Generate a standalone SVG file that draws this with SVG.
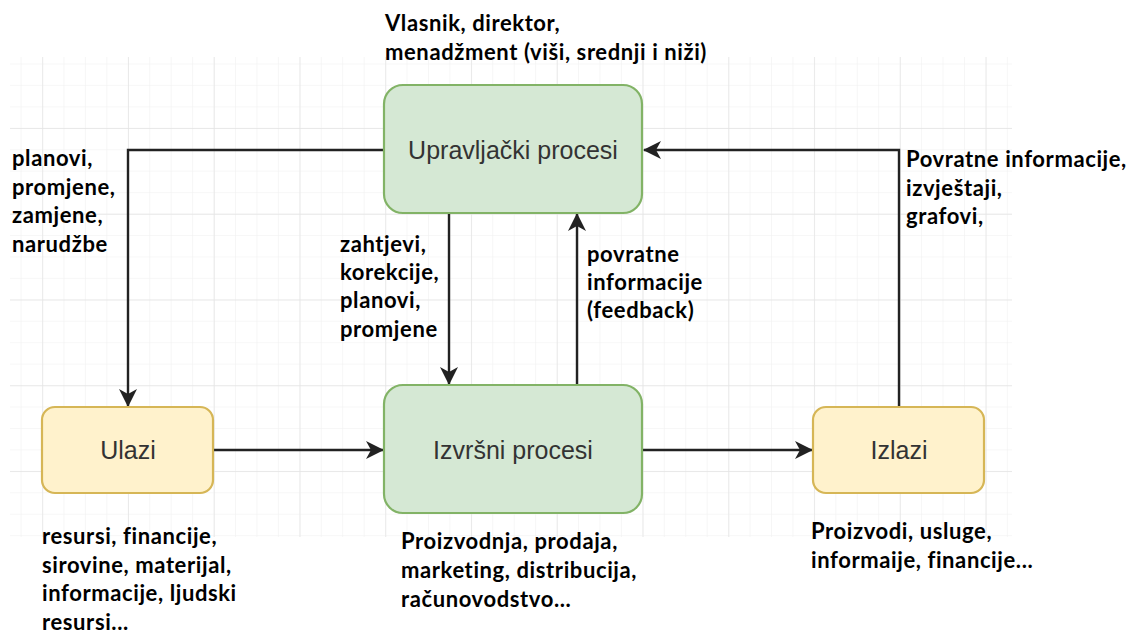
<svg xmlns="http://www.w3.org/2000/svg" width="1128" height="635" viewBox="0 0 1128 635">
<style>
.node-text{font-family:"Liberation Sans",Arial,sans-serif;font-size:25px;fill:#333333;text-anchor:middle;}
.label{font-family:Lato,"Liberation Sans",sans-serif;font-weight:bold;font-size:22px;letter-spacing:0.6px;fill:#000000;}
.green{fill:#d5e8d4;stroke:#82b366;stroke-width:2.2;}
.yellow{fill:#fff2cc;stroke:#d6b656;stroke-width:2.2;}
.conn{fill:none;stroke:#222222;stroke-width:2.4;}
</style>
<defs>
<pattern id="minor" patternUnits="userSpaceOnUse" x="20.6" y="20.6" width="21.44" height="21.44">
<path d="M0,0 V21.44 M0,0 H21.44" fill="none" stroke="#f0f0f0" stroke-width="1.2"/>
</pattern>
<pattern id="major" patternUnits="userSpaceOnUse" x="128" y="128" width="85.76" height="85.76">
<path d="M0,0 V85.76 M0,0 H85.76" fill="none" stroke="#e4e4e4" stroke-width="1.4"/>
</pattern>
<marker id="arrow" markerUnits="userSpaceOnUse" viewBox="0 0 18 18" refX="17" refY="9" markerWidth="18" markerHeight="18" orient="auto">
<path d="M0,0 L18,9 L0,18 L5,9 Z" fill="#222222"/>
</marker>
</defs>
<rect x="0" y="0" width="1128" height="635" fill="#ffffff"/>
<g id="grid">
<rect x="10" y="57" width="1002" height="480" fill="url(#minor)"/>
<rect x="10" y="57" width="1002" height="480" fill="url(#major)"/>
</g>
<g id="connectors">
<path class="conn" d="M384,150 H128 V406" marker-end="url(#arrow)"/>
<path class="conn" d="M449,213 V384" marker-end="url(#arrow)"/>
<path class="conn" d="M577,385 V214" marker-end="url(#arrow)"/>
<path class="conn" d="M213,450 H383" marker-end="url(#arrow)"/>
<path class="conn" d="M643,450 H812" marker-end="url(#arrow)"/>
<path class="conn" d="M899,407 V150 H644" marker-end="url(#arrow)"/>
</g>
<g id="upravljacki">
<rect class="green" x="384" y="85" width="258" height="128" rx="19" ry="19"/>
<text class="node-text" x="513" y="159">Upravljački procesi</text>
</g>
<g id="izvrsni">
<rect class="green" x="384" y="385" width="258" height="128" rx="19" ry="19"/>
<text class="node-text" x="513" y="459">Izvršni procesi</text>
</g>
<g id="ulazi">
<rect class="yellow" x="42" y="407" width="171" height="86" rx="13" ry="13"/>
<text class="node-text" x="128" y="459">Ulazi</text>
</g>
<g id="izlazi">
<rect class="yellow" x="813" y="407" width="171" height="86" rx="13" ry="13"/>
<text class="node-text" x="899" y="459">Izlazi</text>
</g>
<g id="labels">
<text class="label" x="385" y="31"><tspan x="385">Vlasnik, direktor,</tspan><tspan x="385" y="60">menadžment (viši, srednji i niži)</tspan></text>
<text class="label" x="12" y="166"><tspan x="12">planovi,</tspan><tspan x="12" y="195">promjene,</tspan><tspan x="12" y="223">zamjene,</tspan><tspan x="12" y="252">narudžbe</tspan></text>
<text class="label" x="340" y="252"><tspan x="340">zahtjevi,</tspan><tspan x="340" y="280">korekcije,</tspan><tspan x="340" y="308">planovi,</tspan><tspan x="340" y="337">promjene</tspan></text>
<text class="label" x="587" y="262"><tspan x="587">povratne</tspan><tspan x="587" y="290">informacije</tspan><tspan x="587" y="318">(feedback)</tspan></text>
<text class="label" x="906" y="167"><tspan x="906">Povratne informacije,</tspan><tspan x="906" y="196">izvještaji,</tspan><tspan x="906" y="224">grafovi,</tspan></text>
<text class="label" x="42" y="544"><tspan x="42">resursi, financije,</tspan><tspan x="42" y="573">sirovine, materijal,</tspan><tspan x="42" y="601">informacije, ljudski</tspan><tspan x="42" y="630">resursi...</tspan></text>
<text class="label" x="401" y="549"><tspan x="401">Proizvodnja, prodaja,</tspan><tspan x="401" y="578">marketing, distribucija,</tspan><tspan x="401" y="607">računovodstvo...</tspan></text>
<text class="label" x="811" y="539"><tspan x="811">Proizvodi, usluge,</tspan><tspan x="811" y="568">informaije, financije...</tspan></text>
</g>
</svg>
